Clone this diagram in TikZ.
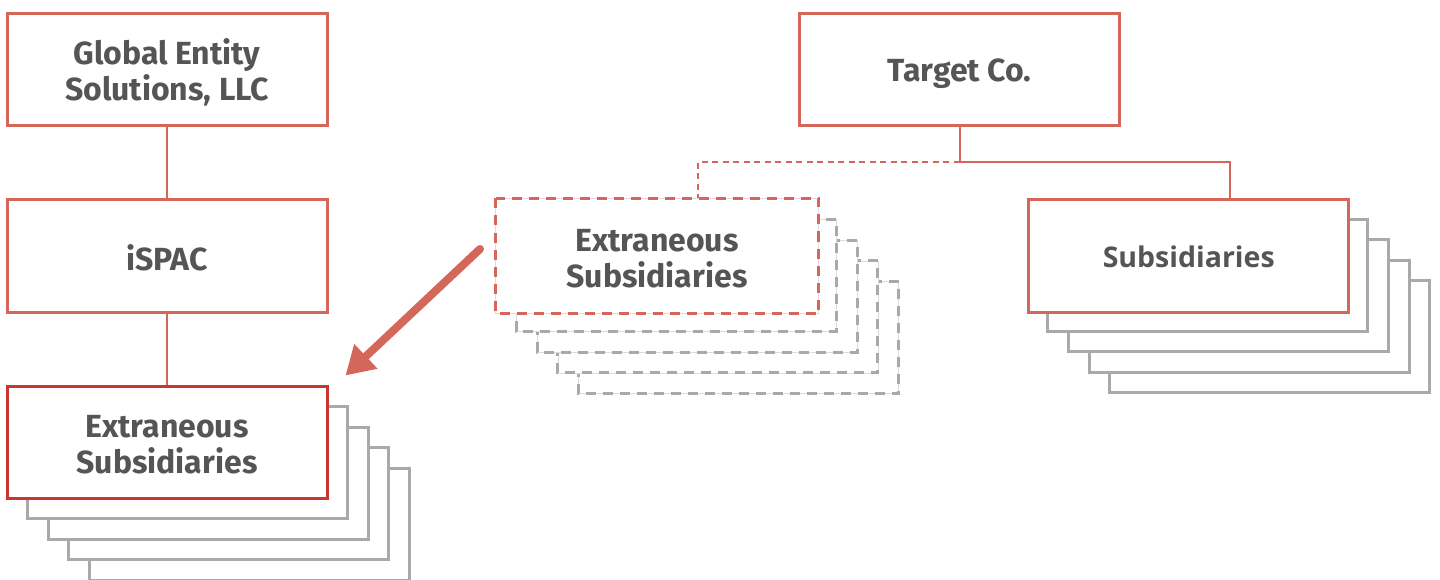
\documentclass[tikz,border=0pt]{standalone}
\usepackage{fontspec}
\setmainfont{Fira Sans}
\newfontfamily\subsfont{Open Sans}
\usetikzlibrary{arrows.meta,calc}

\definecolor{boxred}{HTML}{D4675A}
\definecolor{deepred}{HTML}{C8372D}
\definecolor{txtgray}{HTML}{555555}
\definecolor{stackgray}{HTML}{A9A9A9}
\definecolor{hairgray}{HTML}{DCDCDC}

\begin{document}
\begin{tikzpicture}[x=1pt,y=-1pt,
  entity/.style={draw=boxred, line width=3pt, fill=white,
    minimum width=320pt, minimum height=112pt, inner sep=0pt},
  ghost/.style={entity, draw=none},
  caption/.style={align=center, text=txtgray, inner sep=0pt, yshift=-3pt,
    font=\fontsize{32}{36}\selectfont\bfseries},
  card/.style={draw=stackgray, line width=3pt, fill=white},
  dashcard/.style={draw=stackgray, line width=3pt, dash pattern=on 10pt off 7pt},
  reddash/.style={draw=boxred, line width=3pt, dash pattern=on 10pt off 7pt},
  hair/.style={draw=hairgray, line width=0.7pt, fill=white},
  link/.style={draw=boxred, line width=2pt},
  dashlink/.style={link, dash pattern=on 6pt off 4.5pt},
  bigarrow/.style={draw=boxred, line width=8pt, line cap=round,
    -{Triangle[length=28pt, width=32pt]}},
]
\useasboundingbox (0,0) rectangle (1440,580);

% stacked cards behind a box: solid or dashed
\newcommand\solidstack[1]{%
  \foreach \k in {4,3,2,1}
    \draw[card] ($(#1.north west)+(\k*20.6,\k*20.6)$) rectangle ++(320,112);}
\newcommand\dashstack[1]{%
  \foreach \k in {4,3,2,1}{
    \draw[hair] ($(#1.north west)+(\k*20.8,\k*20.8)$) rectangle ++(320,112);
    \draw[dashcard] ($(#1.north west)+(\k*20.8,\k*20.8)$) rectangle ++(320,112);}}

% left column
\node[entity] (ges) at (167,69.5) {};
\node[caption] (gestext) at (ges.center) {Global Entity\\Solutions, LLC};
\node[entity] (ispac) at (167,256) {};
\node[caption, yshift=1pt] (ispactext) at (ispac.center) {iSPAC};
\begin{scope}
\clip (0,0) rectangle (1440,580);
\path (167,442) coordinate (exleftpos);
\foreach \k in {4,3,2,1}
  \draw[card] ($(exleftpos)+(-160,-56)+(\k*20.6,\k*20.6)$) rectangle ++(320,112);
\end{scope}
\node[entity, draw=deepred] (exleft) at (exleftpos) {};
\node[caption] (exlefttext) at (exleft.center) {Extraneous\\Subsidiaries};

\draw[link] (ges.south) -- (ispac.north);
\draw[link] (ispac.south) -- (exleft.north);

% target company and its subsidiaries
\node[entity] (target) at (959.5,69.5) {};
\node[caption, yshift=-1pt] (targettext) at (target.center) {Target Co.};

\node[ghost] (exmid) at (657,256) {};
\dashstack{exmid}
\draw[hair, fill=white] (exmid.north west) rectangle (exmid.south east);
\draw[reddash] (exmid.north west) rectangle (exmid.south east);
\node[caption] (exmidtext) at (exmid.center) {Extraneous\\Subsidiaries};

\node[ghost] (subspos) at (1188.7,256) {};
\solidstack{subspos}
\node[entity] (subs) at (1188.7,256) {};
\node[caption, yshift=2pt, font=\subsfont\fontsize{28.5}{34}\selectfont\bfseries] (substext) at (subs.center) {Subsidiaries};

\coordinate (split) at ($(target.south)+(0,35)$);
\coordinate (midbranch) at ($(exmid.north)+(41,0)$);
\coordinate (subsbranch) at ($(subs.north)+(41,0)$);
\draw[link] (target.south) -- (split);
\draw[dashlink] (split) -| (midbranch);
\draw[link] (split) -| (subsbranch);

% move arrow
\coordinate (arrowfrom) at ($(exmid.west)+(-15.5,-7)$);
\coordinate (arrowto) at ($(exleft.north east)+(17,-9)$);
\draw[bigarrow] (arrowfrom) -- (arrowto);
\end{tikzpicture}
\end{document}
